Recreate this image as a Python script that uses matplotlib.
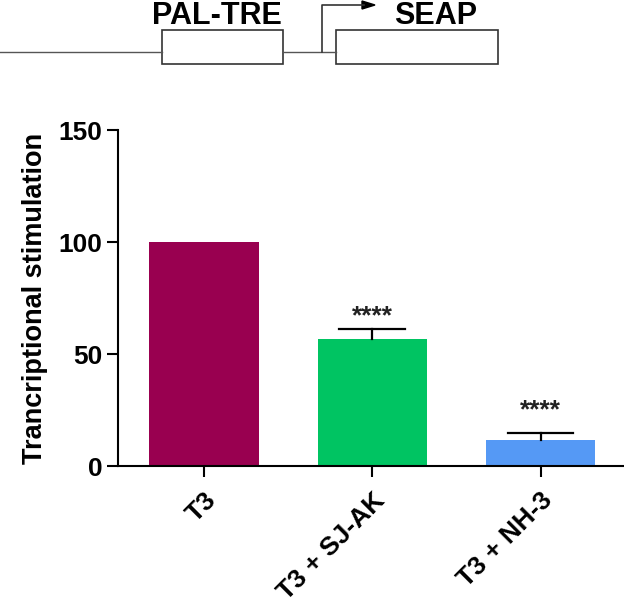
import matplotlib
matplotlib.use("Agg")
import matplotlib.pyplot as plt
from matplotlib.patches import Rectangle, Polygon

plt.rcParams['font.family'] = ['Liberation Sans', 'DejaVu Sans']

categories = ["T3", "T3 + SJ-AK", "T3 + NH-3"]
values = [100.0, 56.7, 11.6]
err_upper = [0.0, 4.6, 3.3]
signif = ["", "****", "****"]
signif_y = [None, 67.0, 25.0]
colors = ["#990050", "#00C462", "#5599F5"]
yticks = [0, 50, 100, 150]
ylabel = "Trancriptional stimulation"
W, H = 624, 603

fig = plt.figure(figsize=(W / 100, H / 100), dpi=100)

# Main bar chart axes
ax = fig.add_axes([118 / W, 1 - 466 / H, 1 - 118 / W, (466 - 130) / H])
x = list(range(len(categories)))
ax.bar(x, values, width=0.65, color=colors, zorder=2)
cap = 0.195
for xi, v, e in zip(x, values, err_upper):
    if e > 0:
        ax.plot([xi, xi], [v, v + e], color='black', lw=1.6, zorder=3)
        ax.plot([xi - cap, xi + cap], [v + e, v + e], color='black', lw=1.6,
                zorder=3)
for xi, s, sy in zip(x, signif, signif_y):
    if s:
        ax.text(xi, sy, s, ha='center', va='center', fontsize=19,
                fontweight='bold', color='#222222')

ax.set_xlim(-0.511, 2.496)
ax.set_ylim(0, 150)
ax.set_yticks(yticks)
ax.set_yticklabels([str(t) for t in yticks], fontsize=19, fontweight='bold')
ax.set_xticks(x)
ax.set_xticklabels(categories, fontsize=19, fontweight='bold', rotation=45,
                   ha='right', rotation_mode='anchor')
ax.tick_params(axis='both', length=8, width=1.5, direction='out')
ax.tick_params(axis='y', pad=3)
ax.tick_params(axis='x', pad=8)
for sp in ['top', 'right']:
    ax.spines[sp].set_visible(False)
for sp in ['left', 'bottom']:
    ax.spines[sp].set_linewidth(1.5)
ax.set_ylabel(ylabel, fontsize=19.5, fontweight='bold', labelpad=8)

# Construct diagram (pixel coordinates)
dax = fig.add_axes([0, 0, 1, 1], zorder=-1)
dax.set_xlim(0, W)
dax.set_ylim(H, 0)
dax.axis('off')
lc = '#333333'
dax.plot([0, 162], [52, 52], color='#555555', lw=1.0)
dax.plot([283, 336], [52, 52], color='#555555', lw=1.0)
dax.add_patch(Rectangle((162, 30), 121, 34, fill=False, edgecolor=lc, lw=1.2))
dax.add_patch(Rectangle((336, 30), 162, 34, fill=False, edgecolor=lc, lw=1.2))
dax.plot([322, 322, 364], [52, 5, 5], color=lc, lw=1.2)
dax.add_patch(Polygon([[362, 1], [362, 9], [375, 5]], closed=True,
                      color='black'))
dax.text(217, 16, "PAL-TRE", ha='center', va='center', fontsize=22,
         fontweight='bold')
dax.text(436, 16, "SEAP", ha='center', va='center', fontsize=22,
         fontweight='bold')

fig.savefig("out.png", dpi=100)
